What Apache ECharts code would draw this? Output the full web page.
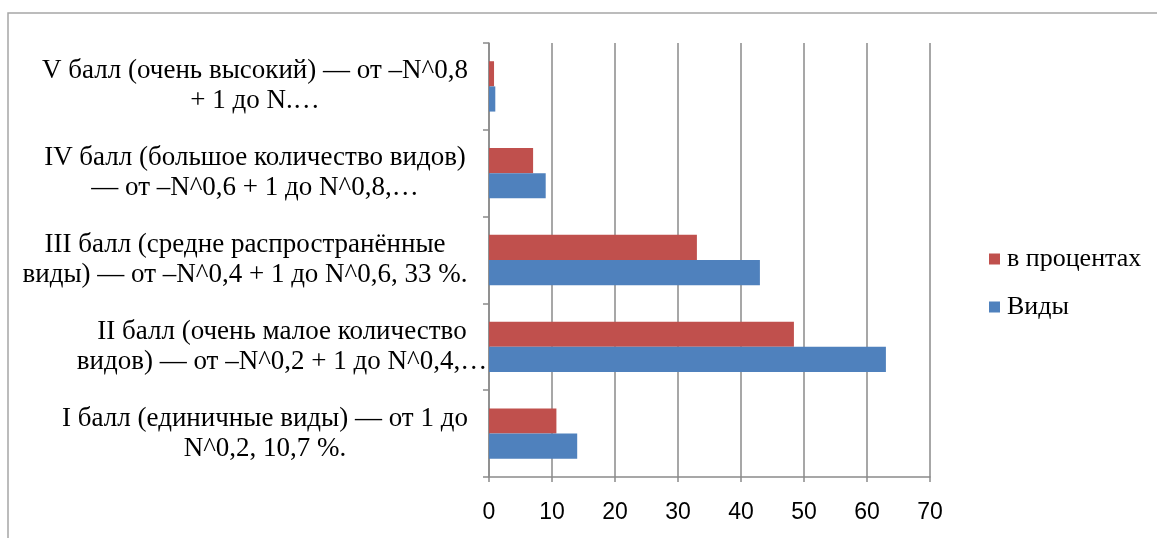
<!DOCTYPE html>
<html>
<head>
<meta charset="utf-8">
<script src="https://cdn.jsdelivr.net/npm/echarts@6/dist/echarts.min.js"></script>
<style>
html,body{margin:0;padding:0;background:#fff;}
#c{width:1157px;height:538px;}
</style>
</head>
<body>
<div id="c"></div>
<script>
// Categories, bottom to top
const categories = [
  "I балл (единичные виды) — от 1 до\nN^0,2, 10,7 %.",
  "II балл (очень малое количество\nвидов) — от –N^0,2 + 1 до N^0,4,…",
  "III балл (средне распространённые\nвиды) — от –N^0,4 + 1 до N^0,6, 33 %.",
  "IV балл (большое количество видов)\n— от –N^0,6 + 1 до N^0,8,…",
  "V балл (очень высокий) — от –N^0,8\n+ 1 до N.…"
];
const seriesNames = ["в процентах", "Виды"];
const percent = [10.7, 48.4, 33, 7, 0.8];
const vidy = [14, 63, 43, 9, 1];
const xTicks = [0, 10, 20, 30, 40, 50, 60, 70];

const blockWidths = [404, 370, 444, 424, 424];
const rich = {};
blockWidths.forEach((w, i) => {
  rich['b' + i] = {
    width: w, align: 'center',
    fontFamily: '"Liberation Serif", "DejaVu Serif", serif',
    fontSize: 27, lineHeight: 30, color: '#000'
  };
});

const chart = echarts.init(document.getElementById('c'));
chart.setOption({
  animation: false,
  backgroundColor: '#fff',
  graphic: [{
    type: 'polyline',
    shape: { points: [[8, 600], [8, 13], [1200, 13]] },
    style: { stroke: '#a6a6a6', lineWidth: 1.5, fill: null }
  }],
  grid: { left: 489, top: 43, right: 227, bottom: 61, containLabel: false },
  legend: {
    orient: 'vertical',
    left: 984, top: 241,
    itemWidth: 11, itemHeight: 11,
    itemGap: 22,
    icon: 'rect',
    data: ["в процентах", "Виды"],
    textStyle: {
      fontFamily: '"Liberation Serif", serif',
      fontSize: 26, color: '#000', padding: [0, 0, 0, 2]
    }
  },
  xAxis: {
    type: 'value',
    min: 0, max: 70, interval: 10,
    axisLine: { show: true, lineStyle: { color: '#8a8a8a', width: 1.5 } },
    axisTick: { show: true, length: 5, lineStyle: { color: '#8a8a8a', width: 1.5 } },
    splitLine: { show: true, lineStyle: { color: '#8a8a8a', width: 1.5 } },
    axisLabel: {
      margin: 24,
      fontFamily: '"Liberation Sans", Arial, sans-serif',
      fontSize: 23, color: '#000',
      formatter: v => xTicks.includes(v) ? String(v) : ''
    }
  },
  yAxis: {
    type: 'category',
    data: categories,
    axisLine: { show: true, lineStyle: { color: '#8a8a8a', width: 1.5 } },
    axisTick: { show: true, length: 6, lineStyle: { color: '#8a8a8a', width: 1.5 } },
    axisLabel: {
      margin: 22,
      align: 'right',
      rich: rich,
      formatter: (val) => {
        const i = categories.indexOf(val);
        return val.split('\n').map(l => '{b' + i + '|' + l + '}').join('\n');
      }
    }
  },
  series: [
    {
      name: seriesNames[0], type: 'bar', data: percent,
      itemStyle: { color: '#c0504d' },
      barGap: '0%', barCategoryGap: '42%'
    },
    {
      name: seriesNames[1], type: 'bar', data: vidy,
      itemStyle: { color: '#4f81bd' },
      barGap: '0%', barCategoryGap: '42%'
    }
  ]
});
</script>
</body>
</html>
